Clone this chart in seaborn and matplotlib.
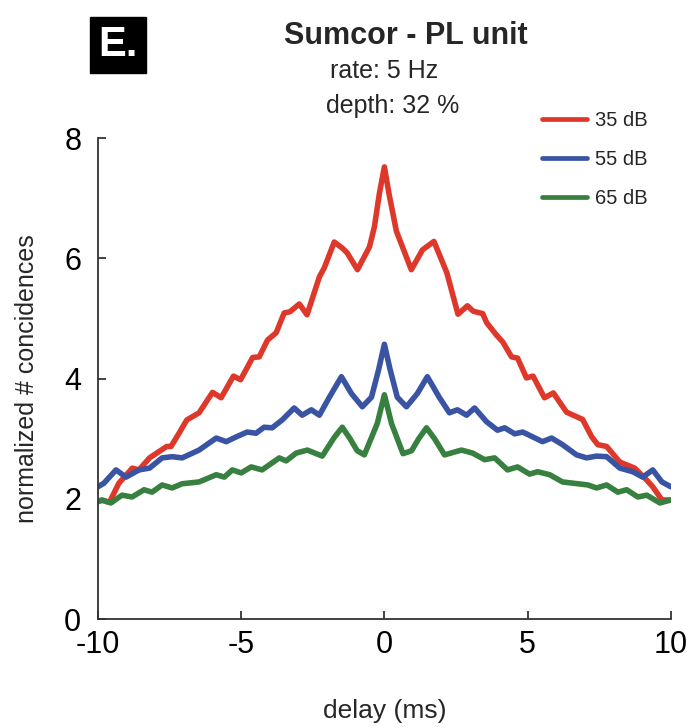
import matplotlib
matplotlib.use("Agg")
import matplotlib.pyplot as plt
import seaborn as sns
import pandas as pd

# Delay axis (ms) and normalized coincidence counts for each sound level
delay_35 = [-10.0, -9.8, -9.6, -9.27, -8.8, -8.57, -8.2, -7.6, -7.45, -7.17, -6.9, -6.47,
            -6.0, -5.7, -5.27, -5.02, -4.6, -4.37, -4.08, -3.78, -3.5, -3.3, -2.97, -2.7,
            -2.27, -2.1, -1.75, -1.47, -1.3, -0.94, -0.52, -0.35, -0.17, 0.0, 0.17, 0.42,
            0.94, 1.33, 1.5, 1.73, 2.18, 2.57, 2.9, 3.1, 3.43, 3.57, 3.9, 4.13, 4.44, 4.65,
            4.96, 5.19, 5.59, 5.9, 6.36, 6.92, 7.24, 7.45, 7.76, 8.22, 8.74, 9.16, 9.37,
            9.69, 10.0]
ncoinc_35 = [1.97, 1.97, 1.94, 2.26, 2.51, 2.48, 2.68, 2.87, 2.87, 3.09, 3.31, 3.43,
             3.77, 3.68, 4.04, 3.98, 4.35, 4.36, 4.64, 4.76, 5.09, 5.11, 5.24, 5.06,
             5.69, 5.84, 6.27, 6.17, 6.09, 5.81, 6.19, 6.52, 7.09, 7.52, 7.05, 6.45,
             5.81, 6.14, 6.2, 6.28, 5.76, 5.07, 5.21, 5.12, 5.08, 4.93, 4.73, 4.61, 4.36, 4.34,
             4.01, 4.04, 3.68, 3.76, 3.44, 3.32, 3.03, 2.9, 2.87, 2.61, 2.51, 2.31, 2.2,
             1.98, 1.98]

delay_55 = [-10.0, -9.79, -9.37, -9.02, -8.57, -8.2, -7.76, -7.41, -7.06, -6.47, -5.87, -5.52,
            -5.17, -4.79, -4.48, -4.2, -3.92, -3.57, -3.15, -2.87, -2.55, -2.27, -1.92, -1.5,
            -1.15, -0.77, -0.45, -0.2, 0.0, 0.2, 0.45, 0.77, 1.15, 1.5, 1.9, 2.27, 2.55,
            2.87, 3.15, 3.57, 3.95, 4.2, 4.55, 4.83, 5.52, 5.84, 6.22, 6.71, 7.06, 7.41,
            7.76, 8.22, 8.67, 9.02, 9.37, 9.69, 10.0]
ncoinc_55 = [2.2, 2.26, 2.48, 2.36, 2.48, 2.51, 2.68, 2.7, 2.68, 2.81, 3.01, 2.95,
             3.03, 3.11, 3.09, 3.19, 3.18, 3.31, 3.51, 3.39, 3.48, 3.39, 3.69, 4.03,
             3.75, 3.53, 3.69, 4.15, 4.57, 4.15, 3.69, 3.53, 3.75, 4.03, 3.7, 3.43, 3.48,
             3.39, 3.51, 3.28, 3.14, 3.18, 3.08, 3.11, 2.95, 3.01, 2.9, 2.73, 2.68, 2.71,
             2.7, 2.51, 2.45, 2.36, 2.48, 2.28, 2.2]

delay_65 = [-10.0, -9.86, -9.55, -9.16, -8.81, -8.39, -8.11, -7.76, -7.41, -7.06, -6.47, -5.87,
            -5.59, -5.31, -5.0, -4.65, -4.27, -3.67, -3.43, -3.08, -2.69, -2.17, -1.75, -1.47,
            -1.2, -0.95, -0.7, -0.25, 0.0, 0.25, 0.65, 0.95, 1.2, 1.47, 1.75, 2.1, 2.69,
            3.08, 3.5, 3.85, 4.3, 4.65, 5.07, 5.35, 5.77, 6.22, 7.1, 7.41, 7.76, 8.15,
            8.46, 8.85, 9.16, 9.62, 10.0]
ncoinc_65 = [1.95, 1.98, 1.93, 2.06, 2.03, 2.15, 2.11, 2.23, 2.18, 2.25, 2.28, 2.4,
             2.36, 2.48, 2.43, 2.53, 2.48, 2.68, 2.63, 2.76, 2.81, 2.71, 3.02, 3.19,
             3.0, 2.8, 2.73, 3.25, 3.73, 3.25, 2.75, 2.8, 3.0, 3.18, 3.0, 2.73, 2.81,
             2.76, 2.65, 2.68, 2.48, 2.53, 2.41, 2.45, 2.4, 2.28, 2.23, 2.18, 2.23, 2.11,
             2.15, 2.03, 2.06, 1.93, 1.98]

levels = ["35 dB", "55 dB", "65 dB"]
colors = ["#DE382B", "#3A54A4", "#37803F"]
x_ticks = [-10, -5, 0, 5, 10]
y_ticks = [0, 2, 4, 6, 8]

frames = []
for lvl, xs, ys in zip(levels, [delay_35, delay_55, delay_65],
                       [ncoinc_35, ncoinc_55, ncoinc_65]):
    frames.append(pd.DataFrame({"delay": xs, "ncoinc": ys, "level": lvl}))
df = pd.concat(frames, ignore_index=True)

sns.set_theme(style="ticks")
plt.rcParams["font.family"] = ["Liberation Sans", "DejaVu Sans"]

fig = plt.figure(figsize=(6.88, 7.28), dpi=100)
ax = fig.add_axes([0.1424, 0.1497, 0.975 - 0.1424, 0.8104 - 0.1497])

sns.lineplot(data=df, x="delay", y="ncoinc", hue="level", hue_order=levels,
             palette=colors, estimator=None, sort=False, linewidth=4.0,
             ax=ax, legend=True)
for line in ax.get_lines():
    line.set_solid_joinstyle("round")
    line.set_solid_capstyle("round")

ax.set_xlim(-10, 10)
ax.set_ylim(0, 8)
ax.set_xticks(x_ticks)
ax.set_yticks(y_ticks)
ax.set_xticklabels([str(t) for t in x_ticks])
ax.set_yticklabels([str(t) for t in y_ticks])
ax.tick_params(axis="both", direction="in", length=6, width=1.2, colors="#222222",
               labelsize=22, labelcolor="black")
ax.tick_params(axis="x", pad=8)
ax.tick_params(axis="y", pad=12)
for side in ["top", "right"]:
    ax.spines[side].set_visible(False)
for side in ["left", "bottom"]:
    ax.spines[side].set_linewidth(1.3)
    ax.spines[side].set_color("#333333")

ax.set_xlabel("delay (ms)", fontsize=19, labelpad=28)
ax.set_ylabel("normalized # concidences", fontsize=18, labelpad=18)

handles, labels = ax.get_legend_handles_labels()
leg = ax.legend(handles, labels, loc="upper left", bbox_to_anchor=(0.762, 0.873),
                bbox_transform=fig.transFigure, frameon=False, fontsize=14.5,
                handlelength=2.2, handletextpad=0.4, labelspacing=1.0)
for h in leg.get_lines():
    h.set_linewidth(3.4)

fig.text(0.59, 0.951, "Sumcor - PL unit", ha="center", va="center",
         fontsize=22, fontweight="bold")
fig.text(0.558, 0.902, "rate: 5 Hz", ha="center", va="center", fontsize=18)
fig.text(0.57, 0.855, "depth: 32 %", ha="center", va="center", fontsize=18)

fig.text(0.171, 0.938, "E.", ha="center", va="center", fontsize=30,
         fontweight="bold", color="white",
         bbox=dict(boxstyle="square,pad=0.2", facecolor="black", edgecolor="black"))

fig.savefig("out.png", dpi=100)
